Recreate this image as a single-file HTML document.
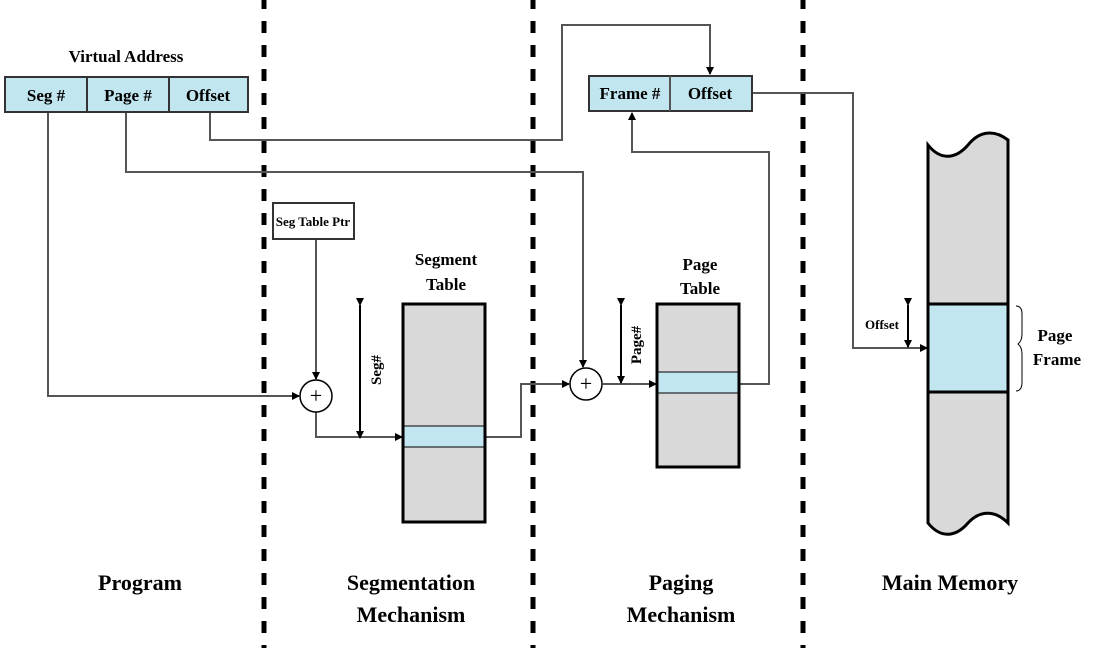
<!DOCTYPE html>
<html><head><meta charset="utf-8"><style>
body{margin:0;background:#fff}
svg text{font-family:"Liberation Serif",serif;font-weight:bold;fill:#000}
</style></head><body>
<svg width="1094" height="648" viewBox="0 0 1094 648" xmlns="http://www.w3.org/2000/svg">
<defs>
<marker id="a" markerWidth="8" markerHeight="8" refX="7" refY="4" orient="auto" markerUnits="userSpaceOnUse"><path d="M0,0 L8,4 L0,8 z" fill="#000"/></marker>
</defs>
<g stroke="#000" stroke-width="5" stroke-dasharray="12 12">
<line x1="264" y1="-3" x2="264" y2="648"/>
<line x1="533" y1="-3" x2="533" y2="648"/>
<line x1="803" y1="-3" x2="803" y2="648"/>
</g>
<!-- connectors -->
<g fill="none" stroke="#555" stroke-width="2">
<polyline points="210,112 210,140 562,140 562,25 710,25 710,74" marker-end="url(#a)"/>
<polyline points="126,112 126,172 583,172 583,367" marker-end="url(#a)"/>
<polyline points="48,112 48,396 299,396" marker-end="url(#a)"/>
<polyline points="316,239 316,379" marker-end="url(#a)"/>
<polyline points="316,412 316,437 402,437" marker-end="url(#a)"/>
<polyline points="485,437 521,437 521,384 569,384" marker-end="url(#a)"/>
<polyline points="603,384 656,384" marker-end="url(#a)"/>
<polyline points="739,384 769,384 769,152 632,152 632,113" marker-end="url(#a)"/>
<polyline points="752,93 853,93 853,348 927,348" marker-end="url(#a)"/>
</g>
<g stroke="#000" stroke-width="2" marker-start="url(#a)" marker-end="url(#a)">
<line x1="360" y1="305" x2="360" y2="438"/>
<line x1="621" y1="305" x2="621" y2="383"/>
<line x1="908" y1="305" x2="908" y2="347"/>
</g>
<!-- virtual address -->
<rect x="5" y="77" width="243" height="35" fill="#c2e6f0" stroke="#333" stroke-width="2"/>
<line x1="87" y1="77" x2="87" y2="112" stroke="#333" stroke-width="2"/>
<line x1="169" y1="77" x2="169" y2="112" stroke="#333" stroke-width="2"/>
<text x="126" y="62" font-size="17" text-anchor="middle">Virtual Address</text>
<text x="46" y="101" font-size="17" text-anchor="middle">Seg #</text>
<text x="128" y="101" font-size="17" text-anchor="middle">Page #</text>
<text x="208" y="101" font-size="17" text-anchor="middle">Offset</text>
<!-- frame box -->
<rect x="589" y="76" width="163" height="35" fill="#c2e6f0" stroke="#333" stroke-width="2"/>
<line x1="670" y1="76" x2="670" y2="111" stroke="#555" stroke-width="2"/>
<text x="630" y="99" font-size="17" text-anchor="middle">Frame #</text>
<text x="710" y="99" font-size="17" text-anchor="middle">Offset</text>
<!-- seg table ptr -->
<rect x="273" y="203" width="81" height="36" fill="#fff" stroke="#333" stroke-width="2"/>
<text x="313" y="226" font-size="13" text-anchor="middle">Seg Table Ptr</text>
<!-- adders -->
<circle cx="316" cy="396" r="16" fill="#fff" stroke="#000" stroke-width="1.5"/>
<text x="316" y="403" font-size="22" font-weight="normal" text-anchor="middle" style="font-weight:normal">+</text>
<circle cx="586" cy="384" r="16" fill="#fff" stroke="#000" stroke-width="1.5"/>
<text x="586" y="391" font-size="22" text-anchor="middle" style="font-weight:normal">+</text>
<!-- segment table -->
<text x="446" y="265" font-size="17" text-anchor="middle">Segment</text>
<text x="446" y="290" font-size="17" text-anchor="middle">Table</text>
<rect x="403" y="304" width="82" height="218" fill="#d9d9d9" stroke="#000" stroke-width="3"/>
<rect x="404" y="426" width="80" height="21" fill="#c2e6f0" stroke="#000" stroke-width="1"/>
<text transform="translate(381,370) rotate(-90)" font-size="15" text-anchor="middle">Seg#</text>
<!-- page table -->
<text x="700" y="270" font-size="17" text-anchor="middle">Page</text>
<text x="700" y="294" font-size="17" text-anchor="middle">Table</text>
<rect x="657" y="304" width="82" height="163" fill="#d9d9d9" stroke="#000" stroke-width="3"/>
<rect x="658" y="372" width="80" height="21" fill="#c2e6f0" stroke="#000" stroke-width="1"/>
<text transform="translate(641,345) rotate(-90)" font-size="15" text-anchor="middle">Page#</text>
<!-- main memory -->
<path d="M928,145 C940,160 955,160 968,145 C980,130 995,130 1008,140 L1008,523 C995,510 980,510 968,523 C955,538 940,538 928,523 Z" fill="#d9d9d9" stroke="#000" stroke-width="3"/>
<rect x="928" y="304" width="80" height="88" fill="#c2e6f0" stroke="#000" stroke-width="3"/>
<text x="882" y="329" font-size="13" text-anchor="middle">Offset</text>
<path d="M1016,306 q6,0 6,8 v20 q0,7 -4,10 q4,3 4,10 v28 q0,9 -6,9" fill="none" stroke="#000" stroke-width="1"/>
<text x="1055" y="341" font-size="17" text-anchor="middle">Page</text>
<text x="1057" y="365" font-size="17" text-anchor="middle">Frame</text>
<!-- bottom labels -->
<text x="140" y="590" font-size="22" text-anchor="middle">Program</text>
<text x="411" y="590" font-size="22" text-anchor="middle">Segmentation</text>
<text x="411" y="622" font-size="22" text-anchor="middle">Mechanism</text>
<text x="681" y="590" font-size="22" text-anchor="middle">Paging</text>
<text x="681" y="622" font-size="22" text-anchor="middle">Mechanism</text>
<text x="950" y="590" font-size="22" text-anchor="middle">Main Memory</text>
</svg>
</body></html>
